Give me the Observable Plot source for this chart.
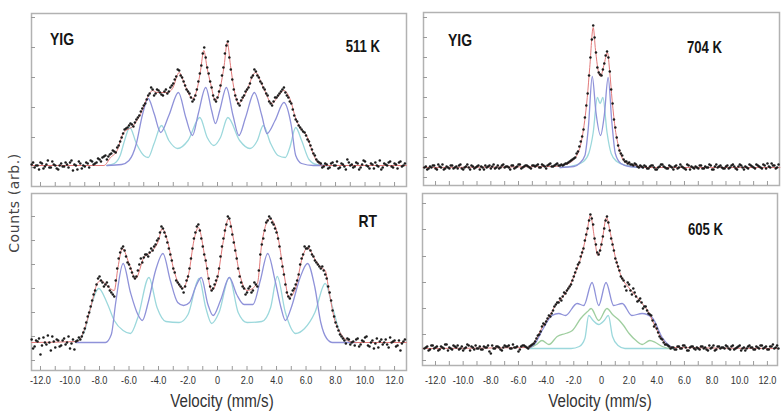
<!DOCTYPE html>
<html><head><meta charset="utf-8">
<script src="https://cdn.jsdelivr.net/npm/d3@7"></script>
<script src="https://cdn.jsdelivr.net/npm/@observablehq/plot@0.6"></script>
<style>
html,body{margin:0;padding:0;background:#fff;}
#wrap{position:relative;width:781px;height:413px;overflow:hidden;background:#fff;}
.lbl{position:absolute;white-space:nowrap;line-height:1;}
</style></head><body><div id="wrap"></div>
<script>
// ---------- data (velocity mm/s, counts above baseline, arbitrary units) ----------
const velTicks = [-12,-11,-10,-9,-8,-7,-6,-5,-4,-3,-2,-1,0,1,2,3,4,5,6,7,8,9,10,11,12];
const velLabels = [-12,-10,-8,-6,-4,-2,0,2,4,6,8,10,12];

// 511 K
const tlFit = [[-12.6,0],[-7.7,0],[-7.25,8],[-6.8,15],[-6.4,32],[-5.7,40],[-5.2,52],[-4.75,68],[-4.4,75],[-4.1,73],[-3.4,73],[-3.05,77],[-2.6,93],[-2.2,80],[-1.7,67],[-1.36,78],[-1.15,95],[-0.93,115],[-0.7,97],[-0.47,82],[-0.14,65],[0.32,88],[0.45,100],[0.66,123],[0.88,100],[1.1,78],[1.43,62],[1.9,72],[2.58,93],[3.1,78],[3.7,62],[4.05,68],[4.5,75],[4.95,65],[5.3,47],[5.6,38],[6.1,28],[6.4,15],[6.85,2],[7.2,0],[12.8,0]];
const tlBlue = [[-7.5,0],[-6.5,1],[-6.0,5],[-5.5,22],[-5.1,50],[-4.7,67],[-4.3,52],[-3.85,33],[-3.3,50],[-2.65,73],[-2.15,48],[-1.7,30],[-1.3,52],[-0.8,78],[-0.4,55],[-0.14,42],[0.15,55],[0.6,78],[1.05,50],[1.45,30],[1.9,48],[2.5,73],[3.0,50],[3.35,32],[3.9,45],[4.5,63],[5.0,40],[5.3,10],[5.7,2],[6.5,0],[7.5,0]];
const tlCyan = [[-7.5,0],[-7.0,2],[-6.6,10],[-6.3,25],[-5.95,38],[-5.5,22],[-5.0,10],[-4.7,8],[-4.3,22],[-3.8,40],[-3.3,25],[-2.7,17],[-2.0,25],[-1.2,48],[-0.7,28],[-0.25,20],[0.2,28],[0.7,48],[1.5,25],[2.2,17],[2.7,25],[3.1,40],[3.6,22],[4.1,10],[4.6,8],[4.9,18],[5.3,38],[5.7,25],[6.2,6],[6.7,1],[7.5,0]];
const tlDotsStart = -12.6;
const tlDots = [1,-2,0,3,-3,1,-2,4,0,-4,
 2,-1,1,3,-5,0,4,-3,-1,2,
 5,1,3,6,8,10,9,12,14,18,
 24,32,37,40,41,43,48,54,60,66,
 72,76,72,75,71,74,72,78,82,89,
 95,88,80,74,68,66,76,92,112,108,
 92,78,66,68,80,98,120,108,86,70,
 62,65,70,76,82,90,94,88,82,76,
 70,62,64,68,72,76,73,68,62,50,
 44,38,34,30,24,16,10,4,2,-1,
 1,-2,3,0,-3,2,-1,6,0,-2,
 3,-4,1,4,-1,2,-3,0,5,-2,
 1,3,-1,2,-3,4,0];
const tlDots2Start = -12.5;
const tlDots2 = [3,0,-4,2,-1,5,-2,1,-3,0,
 -1,3,-2,5,1,-4,2,0,3,-2,
 4,2,7,4,9,6,11,15,13,20,
 28,36,38,42,39,46,50,57,62,70,
 78,70,76,73,70,76,74,80,86,96,
 90,84,76,72,64,70,84,100,118,98,
 84,70,64,74,90,112,124,96,76,66,
 60,68,74,78,88,96,90,84,78,72,
 64,60,68,70,74,78,70,64,56,46,
 40,36,33,26,20,12,6,3,-2,2,
 -3,2,0,4,-2,1,-4,3,1,-1,
 2,-2,5,0,-3,1,3,-1,-4,2,
 0,4,-2,1,3,-1,2];

// RT
const blFit = [[-12.6,0],[-9.5,1],[-9.05,12],[-8.6,35],[-8.15,59],[-7.9,62],[-7.5,57],[-7.0,52],[-6.75,75],[-6.45,94],[-5.95,77],[-5.55,64],[-4.99,85],[-4.54,90],[-4.0,102],[-3.75,114],[-3.4,102],[-2.95,72],[-2.4,54],[-1.95,69],[-1.6,102],[-1.3,115],[-0.85,85],[-0.4,52],[0.0,65],[0.4,102],[0.75,124],[1.1,102],[1.45,72],[2.0,52],[2.7,59],[3.0,99],[3.55,124],[4.05,109],[4.5,69],[4.85,45],[5.3,55],[5.75,85],[6.1,95],[6.65,82],[7.1,74],[7.3,72],[7.55,52],[7.9,25],[8.35,9],[8.8,2],[9.3,0],[12.8,0]];
const blBlue = [[-9.6,0],[-7.6,0],[-7.2,8],[-6.9,40],[-6.4,79],[-5.9,50],[-5.4,28],[-5.1,22],[-4.7,40],[-4.2,72],[-3.7,89],[-3.2,62],[-2.7,40],[-2.3,37],[-1.9,40],[-1.5,55],[-1.1,65],[-0.65,38],[-0.3,27],[0.2,42],[0.8,65],[1.3,48],[1.8,38],[2.4,38],[2.9,62],[3.4,89],[3.9,62],[4.3,35],[4.6,22],[5.0,35],[5.6,65],[6.1,79],[6.6,55],[7.0,20],[7.4,4],[7.8,0],[9.4,0]];
const blCyan = [[-9.6,0],[-9.0,12],[-8.6,35],[-8.05,54],[-7.5,40],[-7.0,22],[-6.4,12],[-5.9,9],[-5.4,25],[-4.65,65],[-4.1,35],[-3.5,21],[-2.6,20],[-2.0,28],[-1.25,64],[-0.8,35],[-0.4,19],[0.1,30],[0.8,65],[1.4,30],[2.0,20],[3.0,21],[3.6,35],[4.05,66],[4.6,30],[5.3,9],[5.9,14],[6.6,30],[7.3,59],[7.8,35],[8.3,10],[8.8,2],[9.4,0]];
const blDotsStart = -12.6;
const blDots = [3,-4,1,-12,5,-2,0,6,-5,2,
 -3,4,0,-6,3,1,5,6,14,26,
 36,48,58,66,60,58,56,50,46,74,
 90,96,86,78,70,64,72,84,85,88,
 90,92,98,104,116,110,100,88,74,62,
 58,54,56,66,84,104,116,112,96,82,
 64,52,58,66,86,104,118,124,108,92,
 74,60,54,50,56,52,58,72,98,112,
 122,124,118,110,96,76,58,46,48,54,
 62,78,88,94,96,88,82,78,74,72,
 64,50,32,20,12,6,2,4,-2,1,
 3,-4,2,5,-3,0,-6,4,1,-2,
 3,-5,0,2,-3,-8,1];
const blDots2Start = -12.5;
const blDots2 = [-6,2,4,-3,0,7,-8,1,3,-4,
 2,-2,6,-1,-7,2,3,10,20,30,
 42,52,64,62,56,60,52,48,62,84,
 94,92,80,74,66,66,78,80,88,86,
 94,96,102,110,114,106,94,82,70,60,
 56,50,62,74,94,110,118,104,88,74,
 56,54,62,74,96,112,126,116,100,84,
 66,56,48,54,50,60,56,88,104,120,
 126,120,114,104,84,68,50,44,52,58,
 68,84,96,94,92,86,80,76,76,68,
 56,42,26,16,8,4,-1,3,0,-3,
 4,-2,1,6,-4,2,-1,-5,3,0,
 -2,5,1,-4,2,-1,3];

// 704 K
const trFit = [[-12.9,0],[-3.5,1],[-2.6,3],[-1.88,10],[-1.4,30],[-1.03,70],[-0.85,100],[-0.6,140],[-0.43,117],[-0.24,97],[-0.07,91],[0.17,102],[0.43,115],[0.6,95],[0.77,67],[1.0,38],[1.25,20],[1.73,5],[2.46,2],[3.0,0],[12.9,0]];
const trBlue = [[-3,0],[-2.0,1],[-1.6,4],[-1.2,12],[-0.95,40],[-0.67,91],[-0.4,55],[-0.07,32],[0.2,52],[0.48,90],[0.75,45],[1.0,14],[1.4,4],[2.0,1],[3,0]];
const trCyan = [[-3,0],[-2.0,2],[-1.3,6],[-0.9,15],[-0.6,35],[-0.3,70],[-0.1,64],[0.1,70],[0.4,35],[0.7,14],[1.1,6],[1.8,2],[3,0]];
const trDotsStart = -12.8;
const trDots = [0,-2,1,2,-1,3,0,-2,1,-1,
 2,0,-1,3,-2,1,0,2,-1,1,
 -2,0,2,1,-1,3,0,-1,2,0,
 1,-2,2,0,3,-1,1,2,0,2,
 1,3,0,2,-1,3,1,2,4,2,
 2,4,5,7,9,14,21,31,50,74,
 110,142,115,95,92,104,116,96,64,40,
 22,14,8,6,5,3,4,1,2,0,
 1,-1,2,0,-2,1,3,0,-1,1,
 -2,2,0,1,-1,3,-2,0,1,-1,
 2,-1,0,3,-2,1,0,2,-1,1,
 -1,2,1,-2,3,0,1,-1,2,0,
 3,1,-1,2,4,0,2,-1,3];
const trDots2Start = -12.7;
const trDots2 = [1,-1,0,2,-2,1,3,-1,0,2,
 -1,1,2,-1,0,3,-2,1,0,2,
 1,-2,0,2,1,-1,2,0,3,1,
 0,2,-1,1,3,0,2,1,-1,2,
 2,0,3,1,2,4,1,3,2,3,
 3,4,6,8,10,16,26,38,62,92,
 128,130,100,93,98,112,110,78,48,30,
 17,12,6,4,3,2,3,0,1,2,
 -1,1,2,-2,0,3,1,-1,2,0,
 1,-1,3,0,-2,2,1,-1,0,2,
 -1,1,0,2,-2,3,1,0,-1,2,
 0,3,-1,1,2,-2,0,3,1,-1,
 2,0,3,-1,1,4,2,0];

// 605 K
const brFit = [[-12.9,0],[-5.25,1],[-4.77,8],[-4.29,21],[-3.81,31],[-3.33,43],[-2.84,51],[-2.36,61],[-1.88,76],[-1.4,95],[-1.03,118],[-0.8,133],[-0.48,108],[-0.27,93],[0.05,108],[0.36,131],[0.65,115],[1.01,91],[1.5,70],[1.97,61],[2.46,53],[2.94,45],[3.42,36],[3.78,25],[4.14,15],[4.63,5],[5.1,1],[12.8,0]];
const brBlue = [[-5.3,0],[-4.8,5],[-4.29,18],[-3.57,33],[-3.09,35],[-2.6,33],[-1.76,45],[-1.28,43],[-0.68,66],[-0.2,43],[0.33,66],[0.88,43],[1.5,45],[2.2,33],[2.94,35],[3.66,31],[4.39,11],[4.99,2],[5.2,0]];
const brGreen = [[-5.3,0],[-4.7,4],[-4.3,8],[-3.8,4],[-3.2,12],[-2.6,15],[-2.1,18],[-1.5,30],[-1.0,37],[-0.75,40],[-0.2,28],[0.4,40],[0.8,34],[1.3,28],[1.6,23],[2.0,15],[2.5,8],[2.94,4],[3.5,8],[3.9,6],[4.4,2],[5.0,0],[5.2,0]];
const brCyan = [[-5.3,0],[-2.2,0],[-1.6,2],[-1.2,10],[-0.92,33],[-0.6,28],[-0.2,24],[0.2,28],[0.5,33],[0.8,12],[1.2,3],[1.7,0],[5.2,0]];
const brDotsStart = -12.8;
const brDots = [0,2,-1,3,1,-2,2,0,4,1,
 -1,2,3,0,-2,1,3,2,-1,0,
 2,-1,1,3,-5,0,2,1,-2,3,
 2,0,4,1,-3,2,3,1,2,4,
 7,13,17,25,27,33,35,42,46,50,
 52,55,60,64,72,80,86,96,108,120,
 134,124,104,94,104,120,132,118,104,90,
 82,72,68,58,64,54,56,47,50,40,
 42,35,33,22,20,12,9,4,3,0,
 1,-1,2,0,3,-2,1,2,-1,0,
 2,0,-1,3,1,-2,2,0,1,3,
 0,2,-1,1,3,0,-2,2,1,-1,
 2,0,3,1,-1,2,4,1,0];
const brDots2Start = -12.7;
const brDots2 = [1,-2,3,0,2,-1,1,4,-2,0,
 3,1,-1,2,0,4,-2,1,3,0,
 -1,2,1,-3,3,0,2,-1,1,2,
 3,0,1,2,-1,3,2,0,3,5,
 10,14,22,24,30,32,38,44,46,48,
 56,58,62,68,76,84,92,100,114,128,
 130,110,96,98,112,128,126,110,98,86,
 78,70,62,66,58,60,52,48,46,42,
 38,34,28,24,16,10,6,4,2,1,
 -1,2,0,3,1,-2,2,0,1,-1,
 2,1,-2,0,3,-1,2,1,0,2,
 -1,3,0,2,-2,1,0,3,1,-1,
 1,3,0,2,-1,2,0,3];

// ---------- drawing ----------
const SANS = '"Liberation Sans",Arial,sans-serif';
const COL = {fit:"#e27a7a", blue:"#8f92d9", cyan:"#9cd8dc", green:"#9fce9f", dot:"#1c1c1c", frame:"#b2b2b2", tick:"#9a9a9a"};
const wrap = document.getElementById("wrap");

function series(vals, start){
  return vals.map((c,i)=>({v: Math.round((start + 0.2*i)*10)/10, c}));
}

function panel(cfg){
  const {left, top, w, h, xDomain, yDomain, yTicks, comps, fit, dots, xLabels, pad} = cfg;
  const extra = xLabels ? 28 : 0;
  const marks = [
    Plot.frame({stroke: COL.frame, strokeWidth: 1.5}),
    Plot.tickX(velTicks, {x: d=>d, insetTop: h-4, stroke: COL.tick}),
    Plot.tickY(yTicks, {y: d=>d, insetRight: w-4, stroke: COL.tick}),
    ...comps.map(([data,color]) => Plot.line(data, {x: d=>d[0], y: d=>d[1], stroke: color, strokeWidth: 1.3, curve: "monotone-x"})),
    Plot.line(fit, {x: d=>d[0], y: d=>d[1], stroke: COL.fit, strokeWidth: 1, curve: "monotone-x"}),
    Plot.dot(dots, {x: "v", y: "c", r: 1.25, fill: COL.dot, stroke: null})
  ];
  const svg = Plot.plot({
    width: w+2, height: h+2+extra,
    marginLeft: 1, marginRight: 1, marginTop: 1, marginBottom: 1+extra,
    x: {domain: xDomain, axis: xLabels ? "bottom" : null, ticks: velLabels,
        tickFormat: d => d === 0 ? "0" : d.toFixed(1), tickSize: 0, tickPadding: pad, label: null},
    y: {domain: yDomain, axis: null},
    style: {fontFamily: SANS, fontSize: "11.5px", color: "#333", background: "transparent", overflow: "visible"},
    marks
  });
  // condense tick labels horizontally (narrow face as in the original)
  svg.querySelectorAll("g[aria-label='x-axis tick label'] text, g[aria-label='x-axis'] text").forEach(t => {
    const tr = t.getAttribute("transform");
    if (tr) t.setAttribute("transform", tr + " scale(0.8,1)");
  });
  svg.style.position = "absolute";
  svg.style.left = (left-1) + "px";
  svg.style.top = (top-1) + "px";
  wrap.append(svg);
}

panel({left:31, top:13, w:375, h:173, xDomain:[-12.61,12.81], yDomain:[-21,152],
  yTicks:[-2,28,58,88,118,148], comps:[[tlCyan,COL.cyan],[tlBlue,COL.blue]], fit:tlFit,
  dots: series(tlDots, tlDotsStart).concat(series(tlDots2, tlDots2Start)), xLabels:false});

panel({left:31, top:193, w:375, h:177, xDomain:[-12.61,12.81], yDomain:[-28,149],
  yTicks:[-18,6,30,54,78,102,126], comps:[[blCyan,COL.cyan],[blBlue,COL.blue]], fit:blFit,
  dots: series(blDots, blDotsStart).concat(series(blDots2, blDots2Start)), xLabels:true, pad:5});

panel({left:423, top:12, w:356, h:173, xDomain:[-12.87,12.87], yDomain:[-18,155],
  yTicks:[-10,10,30,50,70,90,110,130,150], comps:[[trCyan,COL.cyan],[trBlue,COL.blue]], fit:trFit,
  dots: series(trDots, trDotsStart).concat(series(trDots2, trDots2Start)), xLabels:false});

panel({left:422, top:193, w:355, h:172, xDomain:[-12.94,12.73], yDomain:[-17,155],
  yTicks:[-12,14,40,66,92,119,145], comps:[[brCyan,COL.cyan],[brGreen,COL.green],[brBlue,COL.blue]], fit:brFit,
  dots: series(brDots, brDotsStart).concat(series(brDots2, brDots2Start)), xLabels:true, pad:10});

// text labels
function label(text, x, y, css){
  const d = document.createElement("div");
  d.className = "lbl";
  d.textContent = text;
  Object.assign(d.style, {left: x+"px", top: y+"px"}, css);
  wrap.append(d);
}
const boldL = {fontFamily:SANS, fontWeight:"bold", color:"#151515", transformOrigin:"0 50%", transform:"translate(0,-50%) scaleX(0.82)"};
const boldR = {fontFamily:SANS, fontWeight:"bold", color:"#151515", transformOrigin:"100% 50%", transform:"translate(-100%,-50%) scaleX(0.82)"};
label("YIG", 50, 39, {...boldL, fontSize:"17px"});
label("511 K", 380, 47, {...boldR, fontSize:"16px"});
label("RT", 377, 221, {...boldR, fontSize:"17px"});
label("YIG", 448, 40, {...boldL, fontSize:"17px"});
label("704 K", 722, 48, {...boldR, fontSize:"16px"});
label("605 K", 723, 230, {...boldR, fontSize:"16px"});

label("Counts (arb.)", 14, 203, {transform:"translate(-50%,-50%) rotate(-90deg)", fontFamily:'"DejaVu Sans",sans-serif', fontSize:"14px", letterSpacing:"0.6px", color:"#444"});
label("Velocity (mm/s)", 222, 401, {transform:"translate(-50%,-50%) scaleX(0.84)", fontFamily:SANS, fontSize:"18px", color:"#333"});
label("Velocity (mm/s)", 600, 401, {transform:"translate(-50%,-50%) scaleX(0.84)", fontFamily:SANS, fontSize:"18px", color:"#333"});
</script></body></html>
